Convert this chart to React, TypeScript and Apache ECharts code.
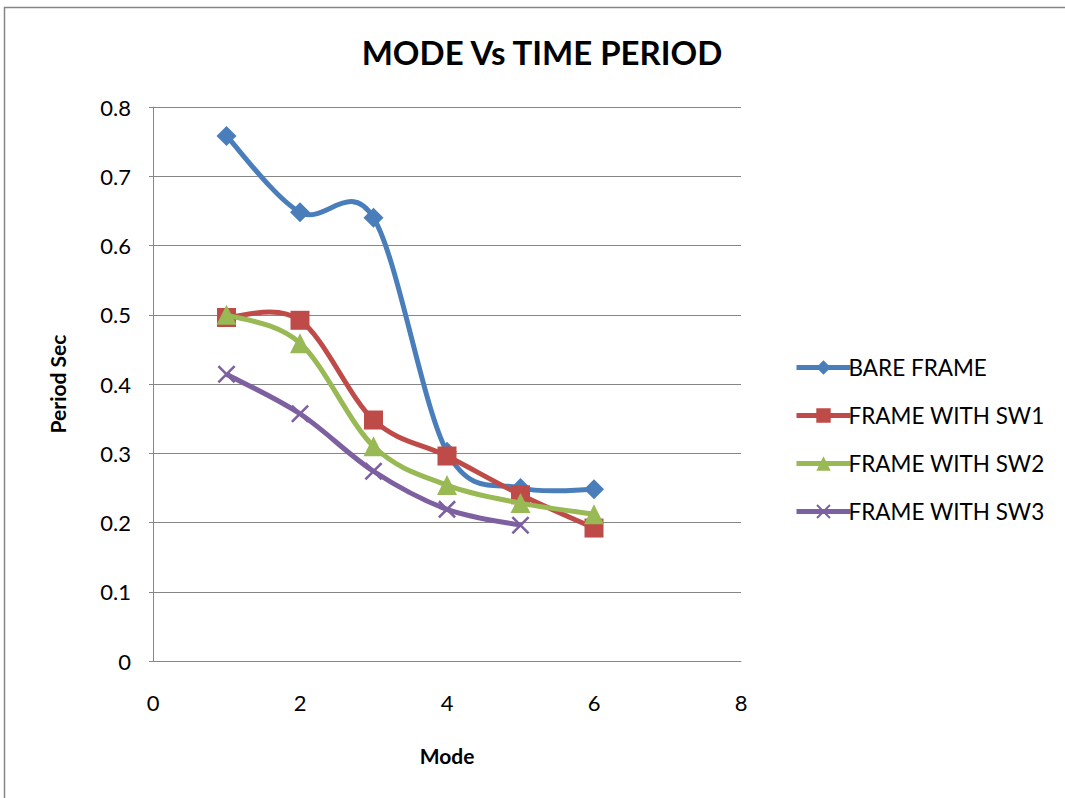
import React, { useEffect, useRef } from "react";
import * as echarts from "echarts";

const modes = [1, 2, 3, 4, 5, 6];
const bareFrame = [0.758, 0.648, 0.64, 0.302, 0.25, 0.248];
const sw1 = [0.496, 0.492, 0.348, 0.296, 0.24, 0.192];
const sw2 = [0.5, 0.459, 0.31, 0.254, 0.228, 0.212];
const sw3 = [0.414, 0.357, 0.274, 0.219, 0.196];
const seriesNames = ["BARE FRAME", "FRAME WITH SW1", "FRAME WITH SW2", "FRAME WITH SW3"];
const colors = ["#4A7EBB", "#BE4B48", "#98B954", "#7D60A0"];

const xSymbol =
  "path://M1,0 L5,4 L9,0 L10,1 L6,5 L10,9 L9,10 L5,6 L1,10 L0,9 L4,5 L0,1 Z";

const FONT = "Lato, 'Open Sans', sans-serif";

function smoothPath(pts: number[][]): string {
  if (pts.length === 0) return "";
  let d = `M${pts[0][0]},${pts[0][1]}`;
  for (let i = 0; i < pts.length - 1; i++) {
    const p0 = pts[i - 1] || pts[i];
    const p1 = pts[i];
    const p2 = pts[i + 1];
    const p3 = pts[i + 2] || pts[i + 1];
    const t = 1 / 6;
    const c1x = p1[0] + (p2[0] - p0[0]) * t;
    const c1y = p1[1] + (p2[1] - p0[1]) * t;
    const c2x = p2[0] - (p3[0] - p1[0]) * t;
    const c2y = p2[1] - (p3[1] - p1[1]) * t;
    d += ` C${c1x},${c1y} ${c2x},${c2y} ${p2[0]},${p2[1]}`;
  }
  return d;
}

export default function App() {
  const ref = useRef<HTMLDivElement>(null);
  useEffect(() => {
    if (!ref.current) return;
    const chart = echarts.init(ref.current, undefined, { renderer: "svg" });
    const mk = (vals: number[]) => vals.map((v, i) => [modes[i], v]);
    const symbols = ["diamond", "rect", "triangle", xSymbol];
    const sizes = [20, 19, 20, 18];
    const data = [bareFrame, sw1, sw2, sw3];

    const curveSeries = data.map((vals, i) => ({
      type: "custom",
      name: seriesNames[i] + "-curve",
      data: mk(vals),
      z: 2 + i * 2,
      silent: true,
      renderItem: (params: any, api: any) => {
        if (params.dataIndex !== 0) return null;
        const pts = mk(vals).map((p) => api.coord(p));
        return {
          type: "path",
          shape: { pathData: smoothPath(pts) },
          style: { stroke: colors[i], lineWidth: 5, fill: "none", lineJoin: "round" },
        };
      },
    }));

    const markerSeries = data.map((vals, i) => ({
      name: seriesNames[i],
      type: "line",
      data: mk(vals),
      z: 3 + i * 2,
      symbol: symbols[i],
      symbolSize: sizes[i],
      showSymbol: true,
      lineStyle: { color: colors[i], width: 0, opacity: 0 },
      itemStyle: { color: colors[i], borderWidth: 0 },
      emphasis: { disabled: true },
    }));

    chart.setOption({
      animation: false,
      textStyle: { fontFamily: FONT },
      title: {
        text: "MODE Vs TIME PERIOD",
        left: 537,
        top: 30,
        textAlign: "center",
        textStyle: { fontFamily: FONT, fontSize: 33, fontWeight: "bold", color: "#000" },
      },
      legend: {
        orient: "vertical",
        left: 789,
        top: 351,
        itemWidth: 54,
        itemHeight: 18,
        itemGap: 25,
        textStyle: { fontFamily: FONT, fontSize: 22.5, color: "#000", padding: [0, 0, 0, -7] },
        data: seriesNames.map((n, i) => ({
          name: n,
          lineStyle: { color: colors[i], width: 5, opacity: 1 },
        })),
      },
      grid: { left: 153, top: 107, width: 588, height: 554, containLabel: false },
      xAxis: {
        type: "value",
        min: 0,
        max: 8,
        interval: 2,
        name: "Mode",
        nameLocation: "middle",
        nameGap: 84,
        nameTextStyle: { fontFamily: FONT, fontSize: 21, fontWeight: "bold", color: "#000" },
        axisLine: { lineStyle: { color: "#868686", width: 1 } },
        axisTick: { show: false },
        splitLine: { show: false },
        axisLabel: { fontFamily: FONT, fontSize: 22, color: "#000", margin: 30 },
      },
      yAxis: {
        type: "value",
        min: 0,
        max: 0.8,
        interval: 0.1,
        name: "Period Sec",
        nameLocation: "middle",
        nameRotate: 90,
        nameGap: 85,
        nameTextStyle: { fontFamily: FONT, fontSize: 21, fontWeight: "bold", color: "#000" },
        axisLine: { show: true, lineStyle: { color: "#868686", width: 1 } },
        axisTick: { show: true, length: 4, lineStyle: { color: "#868686" } },
        splitLine: { show: true, lineStyle: { color: "#868686", width: 1 } },
        axisLabel: { fontFamily: FONT, fontSize: 22, color: "#000", margin: 22 },
      },
      graphic: [
        {
          type: "rect",
          shape: { x: 4.5, y: 7.5, width: 1100, height: 900 },
          style: { fill: "none", stroke: "#868686", lineWidth: 1.5 },
          silent: true,
        },
      ],
      series: [...curveSeries, ...markerSeries],
    });
    return () => chart.dispose();
  }, []);
  return (
    <div
      ref={ref}
      style={{ position: "absolute", left: 0, top: 0, width: 1065, height: 798, background: "#fff" }}
    />
  );
}
